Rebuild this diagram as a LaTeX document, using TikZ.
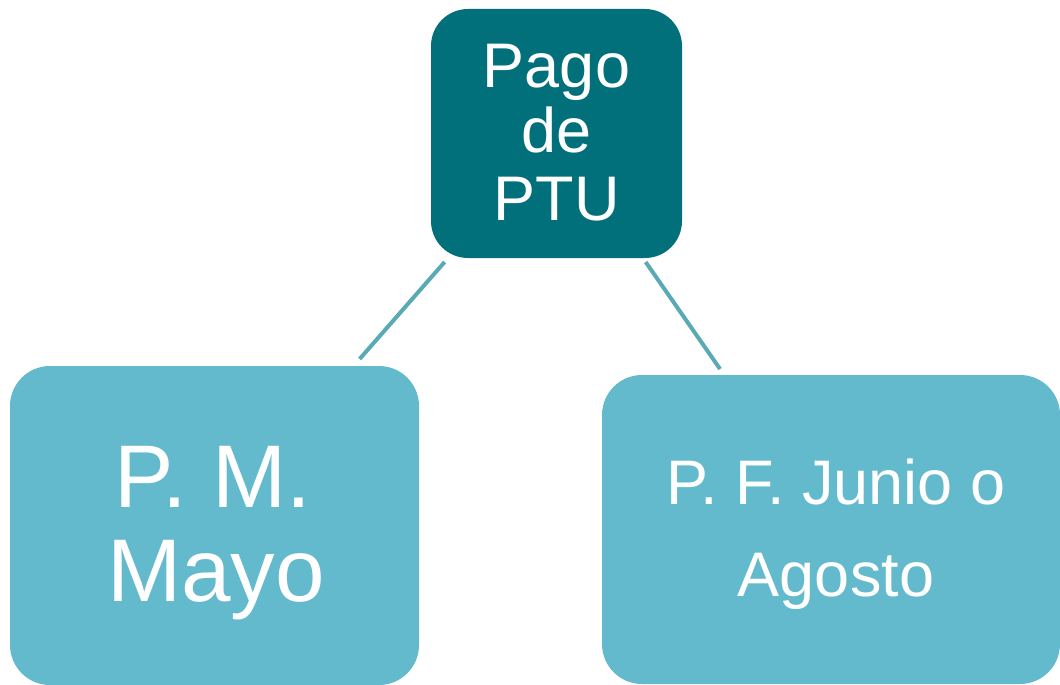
\documentclass[tikz,border=0pt]{standalone}
\usepackage{fontspec}
\setmainfont{Liberation Sans}
\definecolor{darkteal}{RGB}{2,112,122}
\definecolor{lightteal}{RGB}{98,186,204}
\definecolor{linecol}{RGB}{90,170,181}
\begin{document}
\begin{tikzpicture}[x=1pt,y=-1pt,
  box/.style={rectangle, rounded corners=40pt, inner sep=0pt, outer sep=0pt},
  txt/.style={text=white, inner sep=0pt, anchor=base},
  conn/.style={draw=linecol, line width=4pt}]
\useasboundingbox (0,0) rectangle (1060,685);
\node[box, fill=darkteal, rounded corners=37pt, minimum width=251pt, minimum height=249pt] (top) at (556.5,133.5) {};
\node[box, fill=lightteal, minimum width=409pt, minimum height=319pt] (left) at (214.5,525.5) {};
\node[box, fill=lightteal, minimum width=458pt, minimum height=309pt] (right) at (831,529.5) {};
\begin{scope}[every node/.append style={txt}]
\node[font=\fontsize{63}{66}\selectfont] (t1) at (556.5,87) {Pago};
\node[font=\fontsize{63}{66}\selectfont] (t2) at (556.5,152) {de};
\node[font=\fontsize{63}{66}\selectfont] (t3) at (556.5,220) {PTU};
\node[font=\fontsize{89}{94}\selectfont] (l1) at (213,507) {P. M.};
\node[font=\fontsize{89}{94}\selectfont] (l2) at (216,601) {Mayo};
\node[font=\fontsize{63}{92}\selectfont] (r1) at (836,504) {P. F. Junio o};
\node[font=\fontsize{63}{92}\selectfont] (r2) at (836,596) {Agosto};
\end{scope}
\draw[conn, shorten <=5.3pt, shorten >=9.3pt] (top) -- (left);
\draw[conn, shorten <=4.9pt, shorten >=7.3pt] (top) -- (right);
\end{tikzpicture}
\end{document}
